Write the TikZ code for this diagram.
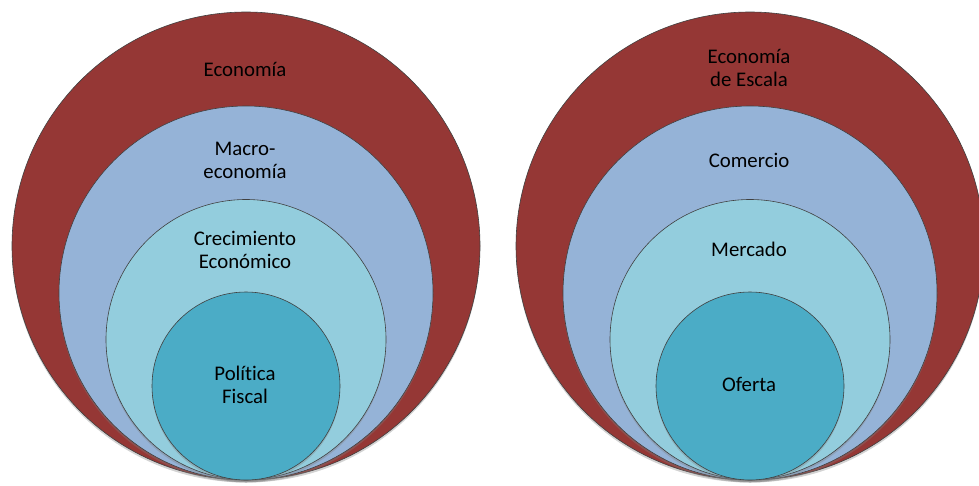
\documentclass[tikz,border=0pt]{standalone}
\usepackage{fontspec}
\setmainfont[Ligatures=NoCommon]{Carlito}
\usetikzlibrary{shadows}
\definecolor{cRed}{HTML}{953735}
\definecolor{cBlue}{HTML}{95B3D7}
\definecolor{cLight}{HTML}{93CDDD}
\definecolor{cTeal}{HTML}{4BACC6}
\tikzset{
  ring/.style={circle, inner sep=0pt, draw=black!75, line width=0.6pt,
    drop shadow={opacity=0.35, shadow xshift=0pt, shadow yshift=-2.5pt}},
  lbl/.style={align=center, text=black, inner sep=0pt,
    font=\fontsize{20.8}{23}\selectfont}
}
\begin{document}
\begin{tikzpicture}[x=1pt, y=-1pt]
\useasboundingbox (0,0) rectangle (979,485);
% left set
\node[ring, fill=cRed,   minimum size=468pt] (L1) at (246,246) {};
\node[ring, fill=cBlue,  minimum size=374pt] (L2) at (246,293) {};
\node[ring, fill=cLight, minimum size=280pt] (L3) at (246,339.5) {};
\node[ring, fill=cTeal,  minimum size=188pt] (L4) at (246,386) {};
\node[lbl] (tL1) at (245,69) {Economía};
\node[lbl] (tL2) at (245,160) {Macro-\\economía};
\node[lbl] (tL3) at (245,250) {Crecimiento\\Económico};
\node[lbl] (tL4) at (245,385) {Política\\Fiscal};
% right set
\node[ring, fill=cRed,   minimum size=468pt] (R1) at (750,246) {};
\node[ring, fill=cBlue,  minimum size=374pt] (R2) at (750,293) {};
\node[ring, fill=cLight, minimum size=280pt] (R3) at (750,339.5) {};
\node[ring, fill=cTeal,  minimum size=188pt] (R4) at (750,386) {};
\node[lbl] (tR1) at (749,68) {Economía\\de Escala};
\node[lbl] (tR2) at (749,160) {Comercio};
\node[lbl] (tR3) at (749,249) {Mercado};
\node[lbl] (tR4) at (749,384) {Oferta};
\end{tikzpicture}
\end{document}
